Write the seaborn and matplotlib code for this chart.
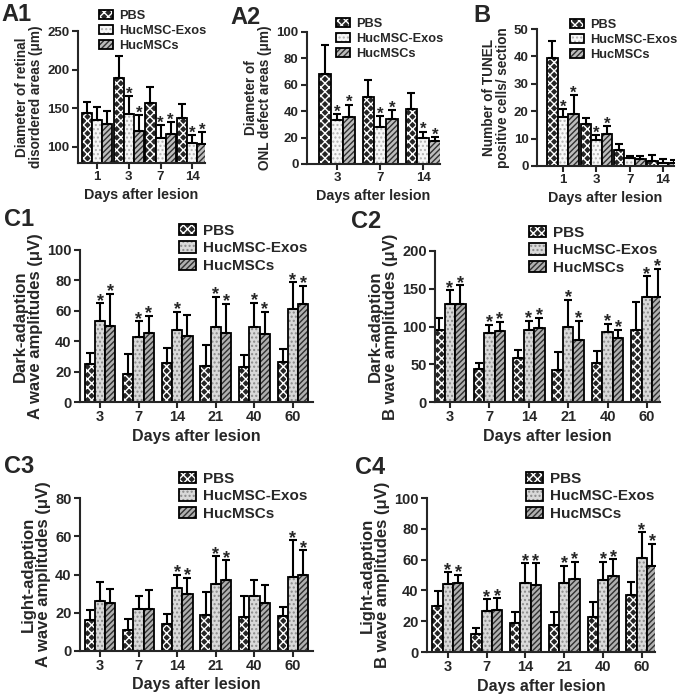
import numpy as np
import pandas as pd
import matplotlib
matplotlib.use("Agg")
import matplotlib.pyplot as plt
from matplotlib.patches import Patch
from matplotlib.colors import to_rgba
import seaborn as sns

groups = ["PBS", "HucMSC-Exos", "HucMSCs"]

# A1 - diameter of retinal disordered areas
a1_days = ["1", "3", "7", "14"]
a1_pbs = [144, 189, 157, 137]
a1_pbs_sd = [14, 28, 20, 19]
a1_exo = [135, 142, 112, 105]
a1_exo_sd = [16, 24, 16, 10]
a1_msc = [130, 121, 116, 104]
a1_msc_sd = [16, 20, 16, 15]
a1_exo_sig = [0, 1, 1, 1]
a1_msc_sig = [0, 1, 1, 1]

# A2 - ONL defect areas
a2_days = ["3", "7", "14"]
a2_pbs = [68, 51, 42]
a2_pbs_sd = [22, 13, 12]
a2_exo = [33, 28, 20]
a2_exo_sd = [5, 8, 4.5]
a2_msc = [35.5, 34, 17.5]
a2_msc_sd = [9.5, 7, 3]
a2_exo_sig = [1, 1, 1]
a2_msc_sig = [1, 1, 1]

# B - TUNEL positive cells
b_days = ["1", "3", "7", "14"]
b_pbs = [39.4, 15.5, 5.7, 1.8]
b_pbs_sd = [6.4, 1.9, 2.5, 2.1]
b_exo = [18, 9.4, 2.8, 1.2]
b_exo_sd = [2.7, 1.8, 0.9, 1.2]
b_msc = [18.8, 11.5, 2.7, 1.2]
b_msc_sd = [7.1, 3.0, 1.1, 1.1]
b_exo_sig = [1, 1, 0, 0]
b_msc_sig = [1, 1, 0, 0]

# C panels - ERG amplitudes
c_days = ["3", "7", "14", "21", "40", "60"]

c1_pbs = [25, 18.4, 25.6, 24, 22.8, 26]
c1_pbs_sd = [7.2, 13.1, 9.8, 13.2, 8.2, 8.8]
c1_exo = [53.6, 43, 47.5, 49.2, 49.2, 61]
c1_exo_sd = [11.4, 10, 12, 20.2, 16.2, 17.8]
c1_msc = [50, 45.3, 43.5, 45.7, 45, 64.6]
c1_msc_sd = [21, 11.4, 13.5, 18.9, 14.5, 12]
c1_exo_sig = [1, 1, 1, 1, 1, 1]
c1_msc_sig = [1, 1, 0, 1, 1, 1]

c2_pbs = [95.4, 43.5, 58, 41.8, 51.4, 95.4]
c2_pbs_sd = [15.4, 7.9, 11, 25, 16.6, 37.3]
c2_exo = [129.7, 91.9, 95.4, 99.8, 92.7, 139.3]
c2_exo_sd = [18.3, 10.1, 12.3, 35.2, 10.6, 27.3]
c2_msc = [129.7, 94.5, 97.6, 82.2, 84.8, 138.5]
c2_msc_sd = [25, 11.9, 13.6, 25.5, 10.6, 38.2]
c2_exo_sig = [1, 1, 1, 1, 1, 1]
c2_msc_sig = [1, 1, 1, 1, 1, 1]

c3_pbs = [16, 10.8, 14.3, 18.6, 17.7, 18.3]
c3_pbs_sd = [5.2, 5.7, 4.8, 12.2, 11.3, 4.7]
c3_exo = [25.9, 21.7, 32.7, 35.1, 28.7, 38.8]
c3_exo_sd = [10.1, 7.3, 7, 14.5, 8.3, 19.1]
c3_msc = [25.2, 21.7, 29.6, 37, 24.9, 39.5]
c3_msc_sd = [7.3, 10, 8.7, 10.5, 9.5, 13.2]
c3_exo_sig = [0, 0, 1, 1, 0, 1]
c3_msc_sig = [0, 0, 1, 1, 0, 1]

c4_pbs = [30, 11.5, 19.1, 17.8, 22.8, 37]
c4_pbs_sd = [9.6, 4.2, 6.9, 8.2, 9.8, 8.7]
c4_exo = [44.3, 26.7, 45, 45, 46.5, 60.9]
c4_exo_sd = [7.4, 7.6, 12.6, 11, 12.2, 16.9]
c4_msc = [45, 27.2, 43.5, 47.4, 49.6, 56]
c4_msc_sd = [5, 7.6, 14.1, 11.3, 10.6, 14.2]
c4_exo_sig = [1, 1, 1, 1, 1, 1]
c4_msc_sig = [1, 1, 1, 1, 1, 1]

sns.set_style("ticks")
plt.rcParams['font.family'] = ['Liberation Sans', 'DejaVu Sans']
plt.rcParams['font.weight'] = 'bold'
plt.rcParams['axes.labelweight'] = 'bold'
plt.rcParams['hatch.linewidth'] = 1.0

W, H = 685, 698
fig = plt.figure(figsize=(W / 100, H / 100), dpi=100)

hatches = ["xxxx", "....", "//////"]


def px(x0, y_top, x1, y_bot):
    return [x0 / W, 1 - y_bot / H, (x1 - x0) / W, (y_bot - y_top) / H]


def style_patch(p, face, hatch, hcol):
    p.set_facecolor(face)
    p.set_edgecolor("black")
    p.set_hatch(hatch)
    p._hatch_color = to_rgba(hcol)


def panel(rect, days, means, sds, sigs, ylim, yticks, ylabel, xlim, width,
          faces, hcols, fs, lfs, yfs, xfs, sfs, lab, lab_xy, leg_xy):
    ax = fig.add_axes(px(*rect))
    df = pd.DataFrame({
        "day": days * 3,
        "value": means[0] + means[1] + means[2],
        "group": np.repeat(groups, len(days)),
    })
    sns.barplot(data=df, x="day", y="value", hue="group", order=days,
                hue_order=groups, palette=faces, saturation=1, errorbar=None,
                width=width, gap=0, edgecolor="black", linewidth=1.3,
                legend=False, ax=ax)
    bars = list(ax.containers)
    for i, cont in enumerate(bars):
        xs = [p.get_x() + p.get_width() / 2 for p in cont]
        ys = [p.get_height() for p in cont]
        for p in cont:
            style_patch(p, faces[i], hatches[i], hcols[i])
        ax.errorbar(xs, ys, yerr=[np.zeros(len(ys)), sds[i]], fmt="none",
                    ecolor="black", elinewidth=1.5, capsize=2.6, capthick=1.5,
                    zorder=1)
        if i > 0:
            for x, y, s, flag in zip(xs, ys, sds[i], sigs[i - 1]):
                if flag:
                    ax.annotate("*", (x, y + s), xytext=(0, -1.8),
                                textcoords="offset points", ha="center",
                                va="baseline", fontsize=sfs, fontweight="bold")
    ax.set_xlim(*xlim)
    ax.set_ylim(*ylim)
    ax.set_yticks(yticks)
    ax.set_xlabel("Days after lesion", fontsize=xfs, fontweight="bold",
                  labelpad=3)
    ax.set_ylabel(ylabel, fontsize=yfs, fontweight="bold", labelpad=3,
                  linespacing=1.0)
    for side in ["top", "right"]:
        ax.spines[side].set_visible(False)
    for side in ["left", "bottom"]:
        ax.spines[side].set_linewidth(1.5)
    ax.tick_params(width=1.5, length=4, labelsize=fs, pad=2)
    for t in ax.get_xticklabels() + ax.get_yticklabels():
        t.set_fontweight("bold")

    handles = []
    for i in range(3):
        h = Patch(facecolor=faces[i], edgecolor="black", hatch=hatches[i],
                  linewidth=1.3, label=groups[i])
        h._hatch_color = to_rgba(hcols[i])
        handles.append(h)
    leg = fig.legend(handles=handles, loc="upper left",
                     bbox_to_anchor=(leg_xy[0] / W, 1 - leg_xy[1] / H),
                     frameon=False, handlelength=1.1,
                     handleheight=0.75, handletextpad=0.45, labelspacing=0.22,
                     borderpad=0, borderaxespad=0,
                     prop={"weight": "bold", "size": lfs})
    for lp, hc in zip(leg.get_patches(), hcols):
        lp._hatch_color = to_rgba(hc)
    fig.text(lab_xy[0] / W, 1 - lab_xy[1] / H, lab, fontsize=17,
             fontweight="bold", ha="left", va="top")
    return ax


a_faces = ["#262626", "#f7f7f7", "#bdbdbd"]
a_hcols = ["white", "#b0b0b0", "#303030"]
c_faces = ["#262626", "#d9d9d9", "#b0b0b0"]
c_hcols = ["white", "#8a8a8a", "#303030"]

panel((78, 31, 205, 163), a1_days, [a1_pbs, a1_exo, a1_msc],
      [a1_pbs_sd, a1_exo_sd, a1_msc_sd], [a1_exo_sig, a1_msc_sig],
      (79, 250), [100, 150, 200, 250],
      "Diameter of retinal\ndisordered areas (\u03bcm)",
      (-0.6, 3.4), 0.95, a_faces, a_hcols, 9.5, 9.2, 9.8, 10.3, 12,
      "A1", (1, 3), (99, 10))

panel((307, 32, 440, 164), a2_days, [a2_pbs, a2_exo, a2_msc],
      [a2_pbs_sd, a2_exo_sd, a2_msc_sd], [a2_exo_sig, a2_msc_sig],
      (0, 100), [0, 20, 40, 60, 80, 100],
      "Diameter of\nONL defect areas (\u03bcm)",
      (-0.7, 2.39), 0.82, a_faces, a_hcols, 9.5, 9.2, 9.8, 10.3, 12,
      "A2", (230, 6), (336, 18))

panel((537, 29, 674, 166), b_days, [b_pbs, b_exo, b_msc],
      [b_pbs_sd, b_exo_sd, b_msc_sd], [b_exo_sig, b_msc_sig],
      (0, 50), [0, 10, 20, 30, 40, 50],
      "Number of TUNEL\npositive cells/ section",
      (-0.78, 3.33), 0.95, a_faces, a_hcols, 9.5, 9.2, 9.8, 10.3, 12,
      "B", (473, 4), (570, 19))

panel((80, 250, 313, 402), c_days, [c1_pbs, c1_exo, c1_msc],
      [c1_pbs_sd, c1_exo_sd, c1_msc_sd], [c1_exo_sig, c1_msc_sig],
      (0, 100), [0, 20, 40, 60, 80, 100],
      "Dark-adaption\nA wave amplitudes (\u03bcV)",
      (-0.52, 5.52), 0.8, c_faces, c_hcols, 10.5, 11, 12, 11.5, 13,
      "C1", (4, 208), (179, 224))

panel((435, 251, 660, 402), c_days, [c2_pbs, c2_exo, c2_msc],
      [c2_pbs_sd, c2_exo_sd, c2_msc_sd], [c2_exo_sig, c2_msc_sig],
      (0, 200), [0, 50, 100, 150, 200],
      "Dark-adaption\nB wave amplitudes (\u03bcV)",
      (-0.38, 5.33), 0.8, c_faces, c_hcols, 10.5, 11, 12, 11.5, 13,
      "C2", (351, 210), (529, 226))

panel((80, 498, 313, 651), c_days, [c3_pbs, c3_exo, c3_msc],
      [c3_pbs_sd, c3_exo_sd, c3_msc_sd], [c3_exo_sig, c3_msc_sig],
      (0, 80), [0, 20, 40, 60, 80],
      "Light-adaption\nA wave amplitudes (\u03bcV)",
      (-0.52, 5.52), 0.8, c_faces, c_hcols, 10.5, 11, 12, 11.5, 13,
      "C3", (4, 455), (179, 472))

panel((427, 498, 655, 652), c_days, [c4_pbs, c4_exo, c4_msc],
      [c4_pbs_sd, c4_exo_sd, c4_msc_sd], [c4_exo_sig, c4_msc_sig],
      (0, 100), [0, 20, 40, 60, 80, 100],
      "Light-adaption\nB wave amplitudes (\u03bcV)",
      (-0.54, 5.34), 0.8, c_faces, c_hcols, 10.5, 11, 12, 11.5, 13,
      "C4", (355, 456), (526, 472))

fig.savefig("out.png", dpi=100, facecolor="white")
